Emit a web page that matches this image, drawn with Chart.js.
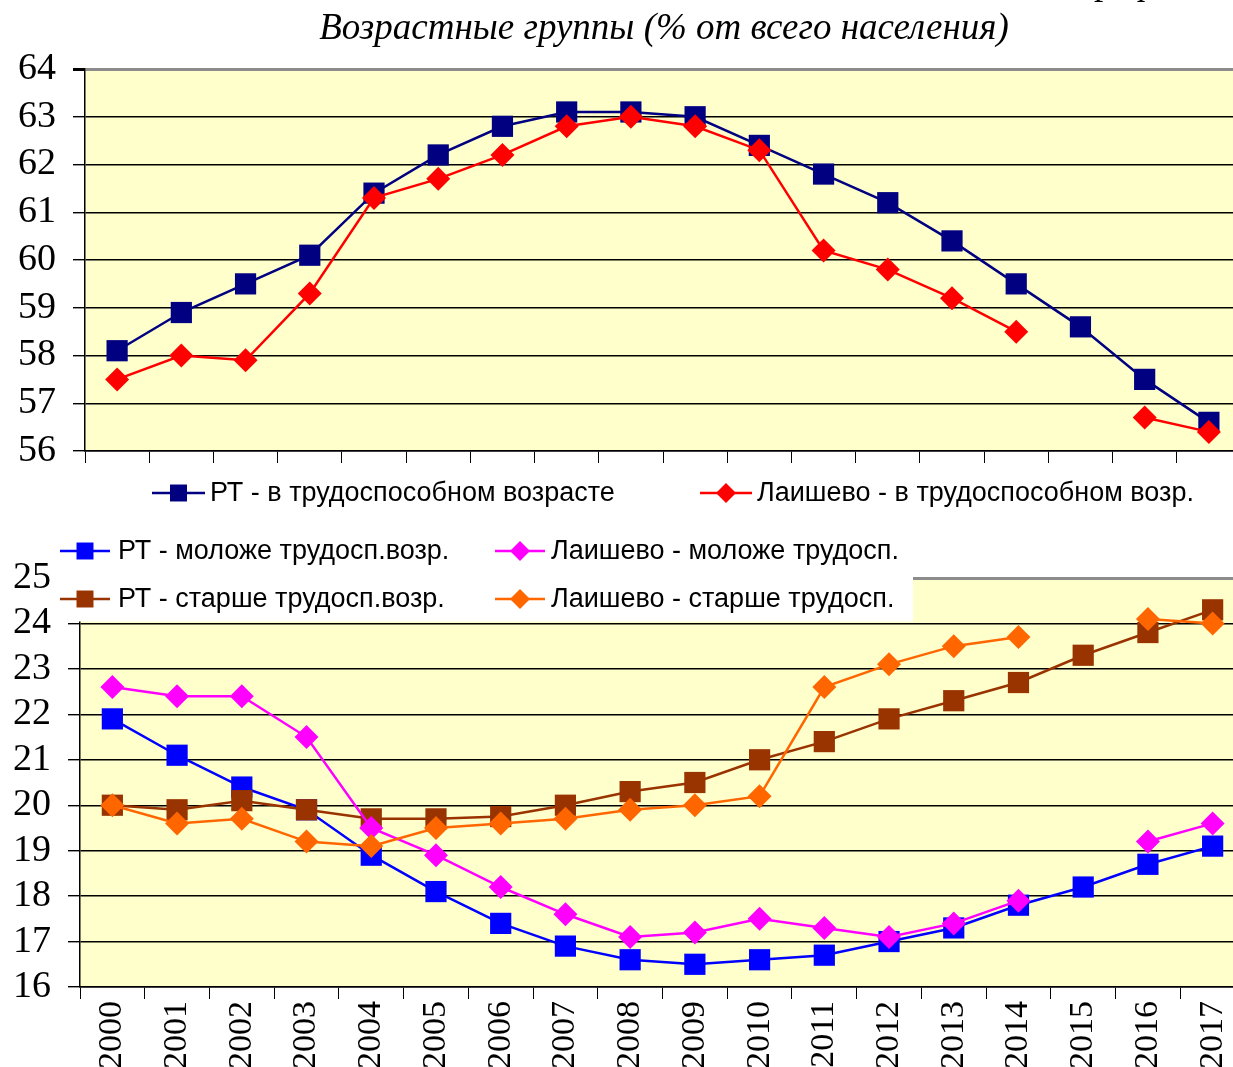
<!DOCTYPE html>
<html>
<head>
<meta charset="utf-8">
<script src="https://cdn.jsdelivr.net/npm/chart.js@4/dist/chart.umd.min.js"></script>
<style>
  html, body { margin: 0; padding: 0; background: #fff; overflow: hidden; }
  #wrap { position: relative; width: 1233px; height: 1067px; overflow: hidden; }
  canvas { position: absolute; left: 0; }
  #topChart { top: 0; }
  #bottomChart { top: 520px; }
  .txt { position: absolute; white-space: nowrap; line-height: 38px; font-size: 37px; font-family: 'Liberation Serif', serif; }
</style>
</head>
<body>
<div id="wrap">
  <canvas id="topChart" width="1256" height="520"></canvas>
  <canvas id="bottomChart" width="1260" height="547"></canvas>
  <div class="txt" style="left:1075px;top:-37px">График</div>
  <div class="txt" style="left:664px;top:8px;transform:translateX(-50%);font-style:italic">Возрастные группы (% от всего населения)</div>
</div>
<script>
const years = ['2000', '2001', '2002', '2003', '2004', '2005', '2006', '2007', '2008',
  '2009', '2010', '2011', '2012', '2013', '2014', '2015', '2016', '2017'];

// верхний график: в трудоспособном возрасте
const rtWork = [58.1, 58.9, 59.5, 60.1, 61.4, 62.2, 62.8, 63.1, 63.1, 63.0, 62.4, 61.8, 61.2, 60.4, 59.5, 58.6, 57.5, 56.6];
const laWork = [57.5, 58.0, 57.9, 59.3, 61.3, 61.7, 62.2, 62.8, 63.0, 62.8, 62.3, 60.2, 59.8, 59.2, 58.5, null, 56.7, 56.4];

// нижний график: моложе и старше трудоспособного
const rtYoung = [21.9, 21.1, 20.4, 19.9, 18.9, 18.1, 17.4, 16.9, 16.6, 16.5, 16.6, 16.7, 17.0, 17.3, 17.8, 18.2, 18.7, 19.1];
const laYoung = [22.6, 22.4, 22.4, 21.5, 19.5, 18.9, 18.2, 17.6, 17.1, 17.2, 17.5, 17.3, 17.1, 17.4, 17.9, null, 19.2, 19.6];
const rtOld = [20.0, 19.9, 20.1, 19.9, 19.7, 19.7, 19.75, 20.0, 20.3, 20.5, 21.0, 21.4, 21.9, 22.3, 22.7, 23.3, 23.8, 24.3];
const laOld = [20.0, 19.6, 19.7, 19.2, 19.1, 19.5, 19.6, 19.7, 19.9, 20.0, 20.2, 22.6, 23.1, 23.5, 23.7, null, 24.1, 24.0];

const topTicks = [56, 64];
const bottomTicks = [16, 25];

function series(label, data, color, style, order) {
  return {
    label: label,
    data: data,
    borderColor: color,
    backgroundColor: color,
    pointBackgroundColor: color,
    pointBorderWidth: 0,
    pointStyle: style,
    pointRadius: style === 'rect' ? 15 : 12,
    borderWidth: 2.5,
    spanGaps: false,
    order: order
  };
}

// жёлтый фон области построения
const plotBg = {
  id: 'plotBg',
  beforeDraw(chart) {
    const { ctx, chartArea: a } = chart;
    ctx.save();
    ctx.fillStyle = '#FFFFCC';
    ctx.fillRect(a.left, a.top, a.right - a.left, a.bottom - a.top);
    ctx.restore();
  }
};

function drawLegendItem(ctx, ds, x1, x2, y, tx) {
  ctx.save();
  ctx.strokeStyle = ds.borderColor;
  ctx.lineWidth = ds.borderWidth;
  ctx.beginPath();
  ctx.moveTo(x1, y);
  ctx.lineTo(x2, y);
  ctx.stroke();
  ctx.fillStyle = ds.pointBackgroundColor;
  Chart.helpers.drawPoint(ctx, {
    pointStyle: ds.pointStyle,
    radius: ds.pointStyle === 'rect' ? 12 : 10,
    borderWidth: 0,
    rotation: 0
  }, (x1 + x2) / 2, y);
  ctx.fillStyle = '#000';
  ctx.font = "27px 'Liberation Sans', Arial, sans-serif";
  ctx.textBaseline = 'middle';
  ctx.textAlign = 'left';
  ctx.fillText(ds.label, tx, y + 1);
  ctx.restore();
}

function yScale(range, width) {
  const top = range[1];
  return {
    min: range[0],
    max: range[1],
    afterFit: s => { s.width = width; },
    ticks: {
      stepSize: 1,
      autoSkip: false,
      color: '#000',
      padding: 17,
      font: { family: "'Liberation Serif', serif", size: 38 }
    },
    grid: {
      color: c => (c.tick && c.tick.value === top ? '#8c8c8c' : '#000'),
      lineWidth: c => (c.tick && c.tick.value === top ? 3 : 1.4),
      tickColor: '#000',
      tickLength: 12
    },
    border: { color: '#000', width: 1.5 }
  };
}

const topLegend = {
  id: 'topLegend',
  afterDraw(chart) {
    const ds = chart.data.datasets;
    drawLegendItem(chart.ctx, ds[0], 152, 205, 493, 210);
    drawLegendItem(chart.ctx, ds[1], 700, 752, 493, 757);
  }
};

new Chart(document.getElementById('topChart'), {
  type: 'line',
  data: {
    labels: years,
    datasets: [
      series('РТ - в трудоспособном возрасте', rtWork, '#000080', 'rect', 2),
      series('Лаишево - в трудоспособном возр.', laWork, '#FF0000', 'rectRot', 1)
    ]
  },
  options: {
    responsive: false,
    animation: false,
    events: [],
    layout: { padding: { top: 69, right: 4, bottom: 49, left: 0 } },
    plugins: { legend: { display: false }, tooltip: { enabled: false } },
    scales: {
      x: {
        offset: true,
        afterFit: s => { s.height = 20; },
        ticks: { display: false },
        grid: { drawOnChartArea: false, tickLength: 12, color: '#000', offset: true },
        border: { color: '#000', width: 1.5 }
      },
      y: yScale(topTicks, 85)
    }
  },
  plugins: [plotBg, topLegend]
});

const bottomLegend = {
  id: 'bottomLegend',
  afterDraw(chart) {
    const ctx = chart.ctx;
    const ds = chart.data.datasets;
    const y24 = chart.scales.y.getPixelForValue(24);
    ctx.save();
    ctx.fillStyle = '#fff';
    ctx.fillRect(60, 0, 913 - 60, y24 - 2);
    ctx.restore();
    drawLegendItem(ctx, ds[0], 60, 110, 31, 118);
    drawLegendItem(ctx, ds[2], 495, 545, 31, 551);
    drawLegendItem(ctx, ds[1], 60, 110, 79, 118);
    drawLegendItem(ctx, ds[3], 495, 545, 79, 551);
  }
};

new Chart(document.getElementById('bottomChart'), {
  type: 'line',
  data: {
    labels: years,
    datasets: [
      series('РТ - моложе трудосп.возр.', rtYoung, '#0000FF', 'rect', 4),
      series('РТ - старше трудосп.возр.', rtOld, '#993300', 'rect', 3),
      series('Лаишево - моложе трудосп.', laYoung, '#FF00FF', 'rectRot', 2),
      series('Лаишево - старше трудосп.', laOld, '#FF6600', 'rectRot', 1)
    ]
  },
  options: {
    responsive: false,
    animation: false,
    events: [],
    layout: { padding: { top: 58, right: 2, bottom: 0, left: 0 } },
    plugins: { legend: { display: false }, tooltip: { enabled: false } },
    scales: {
      x: {
        offset: true,
        afterFit: s => { s.height = 80; },
        ticks: {
          color: '#000',
          minRotation: 90,
          maxRotation: 90,
          autoSkip: false,
          padding: 2,
          font: { family: "'Liberation Serif', serif", size: 34 }
        },
        grid: { drawOnChartArea: false, tickLength: 12, color: '#000', offset: true },
        border: { color: '#000', width: 1.5 }
      },
      y: yScale(bottomTicks, 80)
    }
  },
  plugins: [plotBg, bottomLegend]
});
</script>
</body>
</html>
